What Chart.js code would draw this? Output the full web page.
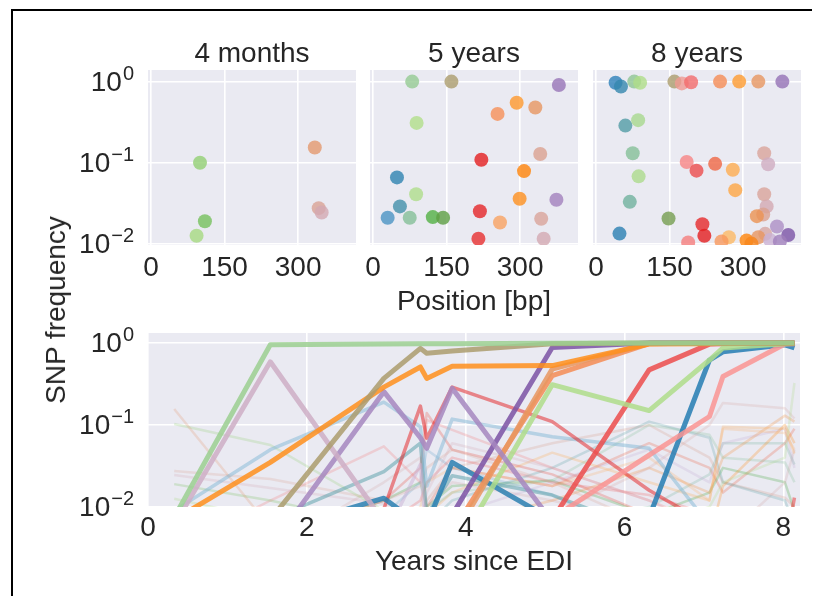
<!DOCTYPE html>
<html>
<head>
<meta charset="utf-8">
<script src="https://cdn.jsdelivr.net/npm/chart.js@4.4.1/dist/chart.umd.min.js"></script>
<style>
  body { margin: 0; background: #fff; width: 817px; height: 596px; overflow: hidden; position: relative;
         font-family: "Liberation Sans", Arial, sans-serif; }
  .frame { position: absolute; left: 11px; top: 9px; width: 799px; height: 620px;
           border-top: 2px solid #000; border-left: 2px solid #000; }
  canvas { position: absolute; left: 0; top: 0; }
  .lbl { position: absolute; color: #262626; font-size: 28px; line-height: 28px; white-space: nowrap;
         transform: translateX(-50%); }
  .ylab { position: absolute; color: #262626; font-size: 28px; line-height: 28px; white-space: nowrap;
          left: 56px; top: 310px; transform: translate(-50%, -50%) rotate(-90deg); }
</style>
</head>
<body>
<div class="frame"></div>
<canvas id="p1" width="817" height="596"></canvas>
<canvas id="p2" width="817" height="596"></canvas>
<canvas id="p3" width="817" height="596"></canvas>
<canvas id="p4" width="817" height="596"></canvas>
<div class="lbl" id="t1" style="left:252px; top:39px"></div>
<div class="lbl" id="t2" style="left:474px; top:39px"></div>
<div class="lbl" id="t3" style="left:697px; top:39px"></div>
<div class="lbl" style="left:474px; top:287px">Position [bp]</div>
<div class="lbl" style="left:474px; top:547px">Years since EDI</div>
<div class="ylab">SNP frequency</div>
<script>
// --- data ---
const panelTitles = ['4 months', '5 years', '8 years'];
const posTicks = [0, 150, 300];
const yearTicks = [0, 2, 4, 6, 8];
const freqTicks = [0.01, 0.1, 1];

const pos4m  = [100, 110, 93, 334, 342, 348];
const freq4m = [0.10, 0.019, 0.0126, 0.154, 0.0276, 0.0244];

const pos5y  = [80, 160, 379, 293, 331, 254, 89, 341, 221, 308, 49, 88, 299, 374, 55, 30, 75, 122, 143, 218, 259, 343, 215, 348];
const freq5y = [1.0, 1.0, 0.91, 0.55, 0.48, 0.40, 0.31, 0.128, 0.109, 0.079, 0.066, 0.041, 0.036, 0.035, 0.029, 0.021,
                0.021, 0.0214, 0.021, 0.0253, 0.0184, 0.0204, 0.0116, 0.0116];

const pos8y  = [40, 51, 78, 90, 160, 175, 194, 253, 292, 331, 380, 60, 86, 75, 185, 205, 243, 279, 343, 351, 87,
                284, 343, 69, 348, 341, 328, 148, 217, 369, 48, 221, 392, 345, 188, 271, 256, 307, 331, 355, 375, 317];
const freq8y = [0.97, 0.87, 1.0, 0.97, 1.0, 0.95, 0.98, 1.0, 1.0, 1.0, 1.0, 0.287, 0.335, 0.131, 0.102, 0.080, 0.097,
                0.082, 0.131, 0.096, 0.068, 0.046, 0.041, 0.033, 0.029, 0.023, 0.022, 0.0206, 0.0175, 0.0164, 0.0134,
                0.0126, 0.0129, 0.0133, 0.0104, 0.0121, 0.0107, 0.011, 0.0121, 0.0112, 0.0107, 0.0101];

const sampleYears = [0.33, 1.54, 2.97, 3.43, 3.51, 3.83, 5.09, 6.31, 7.07, 7.24, 8.02, 8.14];
const tracePos = [82, 160, 300, 352, 372, 392, 88, 331, 253, 205, 180, 46, 48,
                  222, 12, 356, 60, 215,
                  334, 100, 342, 348, 110, 93, 190, 232, 262, 75, 90, 345, 282, 306, 322, 358, 62, 70, 200, 22, 170, 346, 130, 240];
const traceFreq = [
  [0.0075, 0.95, 0.97, 0.98, 0.98, 0.98, 0.99, 1.0, 1.0, 1.0, 1.0, 1.0],
  [0.002, 0.007, 0.37, 0.86, 0.75, 0.80, 0.98, 1.0, 1.0, 1.0, 1.0, 1.0],
  [0.007, 0.035, 0.29, 0.51, 0.37, 0.52, 0.53, 0.97, 0.98, 0.99, 0.99, 0.99],
  [0.006, 0.59, 0.0066, 0.003, 0.003, 0.003, 0.003, 0.003, 0.003, 0.003, 0.003, 0.003],
  [0.002, 0.0032, 0.255, 0.07, 0.052, 0.28, 0.0066, 0.003, 0.003, 0.003, 0.003, 0.003],
  [0.002, 0.002, 0.003, 0.004, 0.005, 0.008, 0.88, 1.0, 1.0, 1.0, 1.0, 1.0],
  [0.002, 0.002, 0.002, 0.002, 0.002, 0.0025, 0.31, 0.15, 0.62, 0.87, 0.98, 0.99],
  [0.002, 0.002, 0.002, 0.002, 0.002, 0.004, 0.48, 0.99, 1.0, 1.0, 1.0, 1.0],
  [0.002, 0.002, 0.002, 0.002, 0.002, 0.005, 0.40, 0.98, 1.0, 1.0, 1.0, 1.0],
  [0.002, 0.002, 0.002, 0.002, 0.002, 0.002, 0.007, 0.47, 0.97, 0.98, 0.99, 0.99],
  [0.002, 0.002, 0.002, 0.002, 0.002, 0.002, 0.0073, 0.043, 0.127, 0.39, 0.97, 0.98],
  [0.002, 0.002, 0.002, 0.002, 0.002, 0.002, 0.002, 0.0075, 0.62, 0.78, 0.95, 0.87],
  [0.003, 0.005, 0.0128, 0.006, 0.006, 0.035, 0.007, 0.003, 0.003, 0.003, 0.003, 0.003],
  [0.002, 0.003, 0.0095, 0.17, 0.069, 0.29, 0.11, 0.016, 0.006, 0.005, 0.004, 0.004],
  [0.009, 0.05, 0.19, 0.095, 0.018, 0.118, 0.072, 0.052, 0.006, 0.004, 0.004, 0.004],
  [0.003, 0.003, 0.004, 0.033, 0.004, 0.003, 0.003, 0.003, 0.003, 0.003, 0.003, 0.003],
  [0.003, 0.007, 0.027, 0.06, 0.008, 0.024, 0.014, 0.005, 0.003, 0.003, 0.003, 0.003],
  [0.002, 0.002, 0.002, 0.002, 0.002, 0.002, 0.002, 0.002, 0.002, 0.002, 0.003, 0.013],
  [0.157, 0.0056, 0.003, 0.003, 0.003, 0.003, 0.003, 0.003, 0.003, 0.003, 0.003, 0.003],
  [0.103, 0.057, 0.009, 0.004, 0.004, 0.004, 0.004, 0.004, 0.004, 0.004, 0.004, 0.004],
  [0.0275, 0.022, 0.012, 0.018, 0.03, 0.05, 0.02, 0.006, 0.004, 0.004, 0.004, 0.004],
  [0.0245, 0.017, 0.011, 0.006, 0.015, 0.06, 0.03, 0.012, 0.005, 0.004, 0.004, 0.004],
  [0.019, 0.012, 0.006, 0.004, 0.004, 0.004, 0.004, 0.004, 0.004, 0.004, 0.004, 0.004],
  [0.0126, 0.007, 0.004, 0.004, 0.004, 0.004, 0.004, 0.004, 0.004, 0.004, 0.004, 0.004],
  [0.003, 0.012, 0.055, 0.02, 0.115, 0.087, 0.03, 0.012, 0.006, 0.004, 0.004, 0.004],
  [0.003, 0.004, 0.012, 0.03, 0.14, 0.05, 0.025, 0.008, 0.004, 0.004, 0.004, 0.004],
  [0.003, 0.003, 0.004, 0.01, 0.02, 0.03, 0.018, 0.04, 0.012, 0.09, 0.08, 0.05],
  [0.003, 0.003, 0.004, 0.006, 0.009, 0.015, 0.021, 0.1, 0.076, 0.04, 0.035, 0.02],
  [0.003, 0.003, 0.003, 0.003, 0.003, 0.003, 0.004, 0.006, 0.01, 0.02, 0.04, 0.325],
  [0.003, 0.003, 0.003, 0.003, 0.003, 0.004, 0.008, 0.03, 0.1, 0.186, 0.16, 0.12],
  [0.003, 0.003, 0.003, 0.005, 0.008, 0.015, 0.046, 0.02, 0.012, 0.095, 0.09, 0.045],
  [0.003, 0.003, 0.003, 0.003, 0.003, 0.004, 0.005, 0.008, 0.004, 0.018, 0.1, 0.06],
  [0.003, 0.003, 0.003, 0.003, 0.004, 0.006, 0.012, 0.03, 0.015, 0.04, 0.13, 0.11],
  [0.003, 0.003, 0.003, 0.003, 0.004, 0.008, 0.02, 0.05, 0.02, 0.06, 0.09, 0.03],
  [0.003, 0.003, 0.003, 0.004, 0.006, 0.012, 0.03, 0.11, 0.07, 0.02, 0.012, 0.006],
  [0.003, 0.003, 0.003, 0.003, 0.003, 0.004, 0.006, 0.01, 0.025, 0.06, 0.06, 0.033],
  [0.003, 0.003, 0.006, 0.012, 0.02, 0.04, 0.02, 0.014, 0.008, 0.005, 0.004, 0.004],
  [0.003, 0.004, 0.008, 0.02, 0.05, 0.03, 0.014, 0.004, 0.003, 0.003, 0.003, 0.003],
  [0.003, 0.003, 0.003, 0.008, 0.012, 0.03, 0.06, 0.1, 0.04, 0.02, 0.013, 0.01],
  [0.004, 0.003, 0.02, 0.04, 0.01, 0.02, 0.012, 0.006, 0.004, 0.004, 0.02, 0.05],
  [0.003, 0.004, 0.012, 0.02, 0.01, 0.018, 0.021, 0.008, 0.015, 0.03, 0.02, 0.009],
  [0.003, 0.003, 0.004, 0.006, 0.01, 0.03, 0.018, 0.06, 0.03, 0.015, 0.06, 0.09]
];
// 0 = fixed/high (bold), 1 = intermediate, 2 = low (faint)
const traceKind = [0, 0, 0, 0, 0, 0, 0, 0, 0, 0, 0, 0, 0,
                   1, 1, 1, 1, 1,
                   2, 2, 2, 2, 2, 2, 2, 2, 2, 2, 2, 2, 2, 2, 2, 2, 2, 2, 2, 2, 2, 2, 2, 2];

// --- styling ---
const FONT = '"Liberation Sans", Arial, sans-serif';
const TXT = '#262626';
const PAIRED = ['#a6cee3', '#1f78b4', '#b2df8a', '#33a02c', '#fb9a99', '#e31a1c', '#fdbf6f', '#ff7f00', '#cab2d6', '#6a3d9a'];
const kindStyle = [
  { alpha: 0.85, width: 5, order: 0 },
  { alpha: 0.5, width: 3.5, order: 1 },
  { alpha: 0.25, width: 2.5, order: 2 }
];

function hexRgb(h) {
  return [1, 3, 5].map(i => parseInt(h.slice(i, i + 2), 16));
}

// colour follows position along the genome (Paired map over 0..400 bp)
function posColor(p, a) {
  const t = Math.max(0, Math.min(1, p / 400)) * (PAIRED.length - 1);
  const i = Math.min(Math.floor(t), PAIRED.length - 2);
  const f = t - i;
  const c0 = hexRgb(PAIRED[i]), c1 = hexRgb(PAIRED[i + 1]);
  const c = c0.map((v, k) => Math.round(v + (c1[k] - v) * f));
  return 'rgba(' + c[0] + ',' + c[1] + ',' + c[2] + ',' + a + ')';
}

const bgPlugin = {
  id: 'bg',
  beforeDraw(chart) {
    const a = chart.chartArea, ctx = chart.ctx;
    ctx.save();
    ctx.fillStyle = '#eaeaf2';
    ctx.fillRect(a.left, a.top, a.right - a.left, a.bottom - a.top);
    ctx.restore();
  }
};

// y tick labels as 10^n with a real superscript
const powLabels = {
  id: 'powLabels',
  afterDraw(chart, args, opts) {
    if (!opts.show) return;
    const ys = chart.scales.y, ctx = chart.ctx;
    const right = chart.chartArea.left - 14;
    ctx.save();
    ctx.fillStyle = TXT;
    ctx.textBaseline = 'alphabetic';
    freqTicks.forEach(v => {
      const py = ys.getPixelForValue(v);
      const exp = String(Math.round(Math.log10(v))).replace('-', '\u2212');
      ctx.font = '20px ' + FONT;
      const ew = ctx.measureText(exp).width;
      ctx.textAlign = 'left';
      ctx.fillText(exp, right - ew, py - 2);
      ctx.font = '28px ' + FONT;
      ctx.textAlign = 'right';
      ctx.fillText('10', right - ew - 1, py + 9);
    });
    ctx.restore();
  }
};

const W = 817, H = 596;

function gridOpts() {
  return { color: '#ffffff', lineWidth: 1.6, drawTicks: false };
}

function makeScatter(id, left, right, pos, freq, showY) {
  return new Chart(document.getElementById(id), {
    type: 'scatter',
    data: {
      datasets: [{
        data: pos.map((p, i) => ({ x: p, y: freq[i] })),
        backgroundColor: pos.map(p => posColor(p, 0.8)),
        borderWidth: 0,
        pointRadius: 7,
        pointHoverRadius: 7,
        clip: 0
      }]
    },
    options: {
      responsive: false,
      animation: false,
      events: [],
      layout: { autoPadding: false, padding: { left: left, right: W - right, top: 70, bottom: H - 245 - 40 } },
      plugins: { legend: { display: false }, tooltip: { enabled: false }, powLabels: { show: showY } },
      scales: {
        x: {
          type: 'linear', min: -6, max: 418,
          afterBuildTicks: s => { s.ticks = posTicks.map(v => ({ value: v })); },
          afterFit: s => { s.height = 40; s.paddingLeft = 0; s.paddingRight = 0; },
          grid: gridOpts(),
          border: { display: false },
          ticks: { color: TXT, font: { size: 28, family: FONT }, padding: 6, maxRotation: 0, autoSkip: false,
                   callback: v => String(v) }
        },
        y: {
          type: 'logarithmic', min: 0.0097, max: 1.39,
          afterBuildTicks: s => { s.ticks = freqTicks.map(v => ({ value: v })); },
          afterFit: s => { s.width = 0; },
          grid: gridOpts(),
          border: { display: false },
          ticks: { display: false }
        }
      }
    },
    plugins: [bgPlugin, powLabels]
  });
}

panelTitles.forEach((t, i) => { document.getElementById('t' + (i + 1)).textContent = t; });

makeScatter('p1', 148, 356, pos4m, freq4m, true);
makeScatter('p2', 370, 578, pos5y, freq5y, false);
makeScatter('p3', 593, 801, pos8y, freq8y, false);

const traceSets = tracePos.map((p, k) => {
  const st = kindStyle[traceKind[k]];
  return {
    data: sampleYears.map((t, i) => ({ x: t, y: traceFreq[k][i] })),
    borderColor: posColor(p, st.alpha),
    borderWidth: st.width,
    borderJoinStyle: 'round',
    pointRadius: 0,
    tension: 0,
    fill: false,
    clip: 0,
    order: st.order
  };
});

new Chart(document.getElementById('p4'), {
  type: 'line',
  data: { datasets: traceSets },
  options: {
    responsive: false,
    animation: false,
    events: [],
    layout: { autoPadding: false, padding: { left: 148, right: W - 800, top: 333, bottom: H - 507 - 40 } },
    plugins: { legend: { display: false }, tooltip: { enabled: false }, powLabels: { show: true } },
    scales: {
      x: {
        type: 'linear', min: 0, max: 8.21,
        afterBuildTicks: s => { s.ticks = yearTicks.map(v => ({ value: v })); },
        afterFit: s => { s.height = 40; s.paddingLeft = 0; s.paddingRight = 0; },
        grid: gridOpts(),
        border: { display: false },
        ticks: { color: TXT, font: { size: 28, family: FONT }, padding: 4, maxRotation: 0, autoSkip: false,
                 callback: v => String(v) }
      },
      y: {
        type: 'logarithmic', min: 0.01, max: 1.324,
        afterBuildTicks: s => { s.ticks = freqTicks.map(v => ({ value: v })); },
        afterFit: s => { s.width = 0; },
        grid: gridOpts(),
        border: { display: false },
        ticks: { display: false }
      }
    }
  },
  plugins: [bgPlugin, powLabels]
});
</script>
</body>
</html>
